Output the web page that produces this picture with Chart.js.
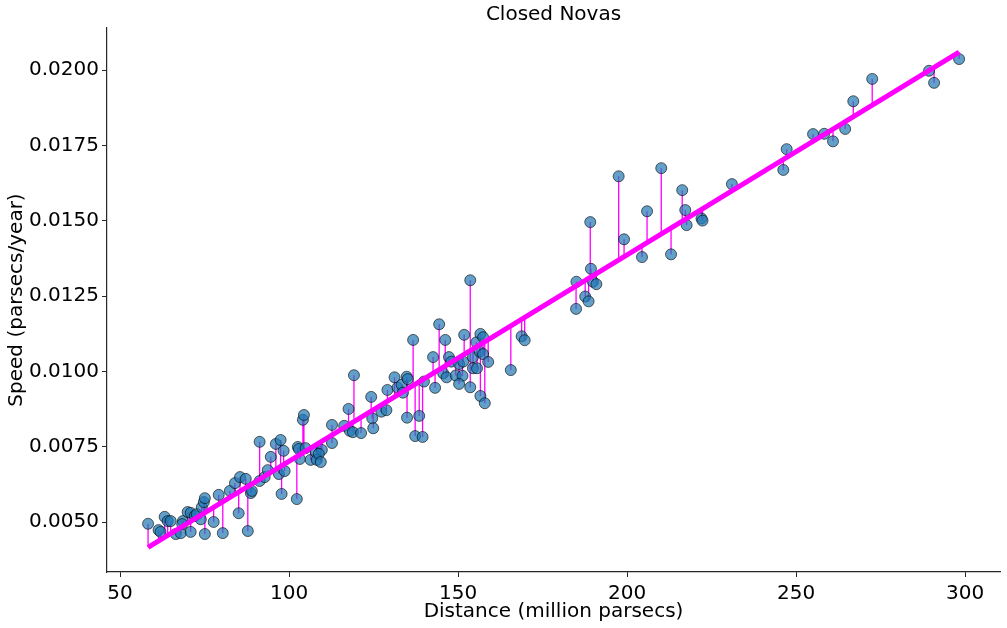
<!DOCTYPE html>
<html>
<head>
<meta charset="utf-8">
<script src="https://cdn.jsdelivr.net/npm/chart.js@4"></script>
<style>
html,body{margin:0;padding:0;background:#fff;}
#wrap{width:1007px;height:628px;position:relative;}
</style>
</head>
<body>
<div id="wrap"><canvas id="c"></canvas></div>
<script>
const xDist = [
58.3,61.4,62.0,63.2,64.1,65.0,66.5,68.0,68.6,68.4,
70.0,70.9,70.9,72.1,72.7,73.9,74.2,74.8,75.1,75.1,
77.7,79.2,80.4,82.5,84.0,85.1,85.5,87.2,87.8,88.7,
89.0,91.3,91.3,92.8,93.7,94.6,96.1,97.0,97.5,97.8,
98.4,98.7,102.3,102.6,102.9,103.2,104.1,104.4,104.9,106.4,
107.9,108.2,109.7,108.8,109.4,
112.7,112.7,116.3,117.6,118.0,118.9,121.3,119.2,124.3,124.6,
124.9,127.3,128.8,129.1,131.2,132.1,133.3,133.7,134.8,135.1,
134.9,136.7,137.3,138.5,139.5,139.9,142.6,143.2,144.4,145.6,
146.2,146.6,147.3,148.0,149.3,151.3,150.3,150.3,151.5,151.8,
153.6,153.6,154.4,154.4,155.6,155.4,156.6,157.4,156.4,157.4,
156.6,157.9,158.9,165.6,168.8,169.7,
184.9,185.0,187.6,188.6,189.1,189.3,189.9,190.9,197.5,199.1,
204.4,205.9,210.1,213.0,216.3,217.2,217.6,222.0,222.3,231.0,
246.2,247.2,255.0,258.3,260.9,264.5,266.9,272.5,289.3,290.8,298.2
];
const ySpeed = [
0.00495,0.00474,0.00468,0.00518,0.00504,0.00504,0.00461,0.00464,0.00504,0.00494,
0.00534,0.00531,0.00468,0.00521,0.00527,0.0051,0.0055,0.00567,0.0058,0.00461,
0.00501,0.00591,0.00464,0.00604,0.0063,0.0053,0.0065,0.00644,0.00471,0.00597,
0.00604,0.00637,0.00767,0.0065,0.00673,0.00717,0.0076,0.0066,0.00773,0.00594,
0.00737,0.0067,0.00577,0.0075,0.00743,0.0071,0.0084,0.00856,0.00746,0.00707,
0.00733,0.00707,0.0074,0.00727,0.0070,
0.00823,0.00763,0.0082,0.00876,0.00803,0.00799,0.00796,0.00988,0.00916,0.00845,
0.00812,0.00867,0.00872,0.00939,0.00981,0.00947,0.00956,0.0093,0.00983,0.00975,
0.00847,0.01105,0.00786,0.00853,0.00783,0.00967,0.01048,0.00946,0.01157,0.00994,
0.01105,0.00981,0.01048,0.01033,0.00987,0.00986,0.00959,0.01025,0.01033,0.01122,
0.00948,0.01303,0.01048,0.01011,0.01011,0.01097,0.01125,0.01114,0.01066,0.01058,
0.00919,0.00895,0.01032,0.01005,0.01117,0.01104,
0.01208,0.01298,0.01249,0.01233,0.01496,0.01341,0.01298,0.0129,0.01648,0.01439,
0.0138,0.01532,0.01675,0.01389,0.01602,0.01536,0.01486,0.01508,0.01501,0.01622,
0.01669,0.01738,0.01788,0.01789,0.01764,0.01805,0.01897,0.01971,0.01998,0.01958,0.02037
];
// fitted line endpoints
const fitX = [58.3, 298.2];
const fitY = [0.00417, 0.0206];
const xTicks = [50, 100, 150, 200, 250, 300];
const yTicks = [0.005, 0.0075, 0.01, 0.0125, 0.015, 0.0175, 0.02];

const slope = (fitY[1] - fitY[0]) / (fitX[1] - fitX[0]);
const predict = x => fitY[0] + (x - fitX[0]) * slope;

const scatterData = xDist.map((x, i) => ({x: x, y: ySpeed[i]}));
const residData = [];
xDist.forEach((x, i) => {
  residData.push({x: x, y: ySpeed[i]});
  residData.push({x: x, y: predict(x)});
  residData.push({x: x, y: null});
});
const fitData = fitX.map((x, i) => ({x: x, y: fitY[i]}));

const FONT = "'DejaVu Sans', sans-serif";
const tickCol = '#262626';

new Chart(document.getElementById('c'), {
  type: 'scatter',
  data: {
    datasets: [
      {
        label: 'fit',
        type: 'line',
        data: fitData,
        borderColor: '#ff00ff',
        borderWidth: 5,
        pointRadius: 0,
        fill: false,
        order: 0
      },
      {
        label: 'novas',
        data: scatterData,
        backgroundColor: 'rgba(31,119,180,0.7)',
        borderColor: 'rgba(0,0,0,0.6)',
        borderWidth: 1,
        pointRadius: 5.5,
        order: 1
      },
      {
        label: 'residuals',
        type: 'line',
        data: residData,
        borderColor: '#ff00ff',
        borderWidth: 1.3,
        pointRadius: 0,
        spanGaps: false,
        fill: false,
        order: 2
      }
    ]
  },
  options: {
    responsive: true,
    maintainAspectRatio: false,
    animation: false,
    devicePixelRatio: 1,
    layout: {padding: {left: 0, right: 7, top: 0, bottom: 0}},
    plugins: {
      legend: {display: false},
      tooltip: {enabled: false},
      title: {
        display: true,
        text: 'Closed Novas',
        fullSize: false,
        color: '#000',
        font: {family: FONT, size: 20, weight: 'normal'},
        padding: {top: 3, bottom: 1}
      }
    },
    scales: {
      x: {
        type: 'linear',
        min: 46.15,
        max: 310.3,
        afterBuildTicks: s => { s.ticks = xTicks.map(v => ({value: v})); },
        afterFit: s => { s.height = 56; },
        grid: {drawOnChartArea: false, drawTicks: true, tickLength: 5, color: tickCol},
        border: {display: true, color: tickCol, width: 1.2},
        ticks: {
          color: '#000',
          font: {family: FONT, size: 20},
          padding: 5,
          maxRotation: 0,
          callback: v => String(v)
        },
        title: {
          display: true,
          text: 'Distance (million parsecs)',
          color: '#000',
          font: {family: FONT, size: 20},
          padding: {top: 0, bottom: 4}
        }
      },
      y: {
        type: 'linear',
        min: 0.00335,
        max: 0.0214,
        afterBuildTicks: s => { s.ticks = yTicks.map(v => ({value: v})); },
        afterFit: s => { s.width = 107; },
        grid: {drawOnChartArea: false, drawTicks: true, tickLength: 5, color: tickCol},
        border: {display: true, color: tickCol, width: 1.2},
        ticks: {
          color: '#000',
          font: {family: FONT, size: 20},
          padding: 3,
          callback: v => Number(v).toFixed(4)
        },
        title: {
          display: true,
          text: 'Speed (parsecs/year)',
          color: '#000',
          font: {family: FONT, size: 20},
          padding: {top: 5, bottom: 0}
        }
      }
    }
  }
});
</script>
</body>
</html>
